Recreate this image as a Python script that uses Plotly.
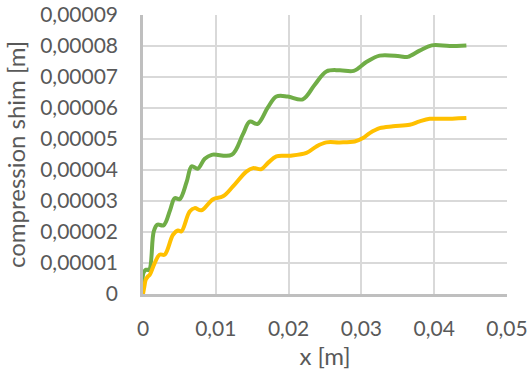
import plotly.graph_objects as go

# Shim compression along x, two load cases
green_x = [0, 0.00007, 0.00044, 0.00085, 0.00147, 0.00195, 0.00284, 0.00374, 0.00435, 0.00504,
           0.0060, 0.00669, 0.00751, 0.00848, 0.00944, 0.01218, 0.0137, 0.01466, 0.01575, 0.01713,
           0.01832, 0.01988, 0.02194, 0.02359, 0.02519, 0.02702, 0.02894, 0.03073, 0.03251, 0.03526,
           0.03636, 0.038, 0.03966, 0.04213, 0.04442]
green_y = [0, 0.687e-5, 0.784e-5, 0.784e-5, 2.01e-5, 2.235e-5, 2.22e-5, 2.72e-5, 3.09e-5, 3.06e-5,
           3.62e-5, 4.12e-5, 4.04e-5, 4.36e-5, 4.49e-5, 4.49e-5, 5.14e-5, 5.56e-5, 5.49e-5, 6.01e-5,
           6.37e-5, 6.37e-5, 6.28e-5, 6.75e-5, 7.18e-5, 7.22e-5, 7.2e-5, 7.49e-5, 7.69e-5, 7.67e-5,
           7.65e-5, 7.85e-5, 8.02e-5, 8.0e-5, 8.02e-5]

yellow_x = [0, 0.00019, 0.00037, 0.00065, 0.00092, 0.00161, 0.00229, 0.00298, 0.00412, 0.00481,
            0.00527, 0.00641, 0.0071, 0.00802, 0.00962, 0.01099, 0.01236, 0.0142, 0.01511, 0.01626,
            0.01717, 0.01832, 0.02015, 0.02245, 0.02382, 0.02519, 0.02702, 0.02908, 0.03022, 0.03114,
            0.03251, 0.03434, 0.03663, 0.038, 0.03938, 0.04121, 0.04442]
yellow_y = [0, 0.245e-5, 0.46e-5, 0.56e-5, 0.62e-5, 1.0e-5, 1.27e-5, 1.27e-5, 1.91e-5, 2.05e-5,
            2.02e-5, 2.66e-5, 2.77e-5, 2.7e-5, 3.06e-5, 3.15e-5, 3.47e-5, 3.95e-5, 4.06e-5, 4.03e-5,
            4.23e-5, 4.44e-5, 4.46e-5, 4.55e-5, 4.76e-5, 4.89e-5, 4.89e-5, 4.92e-5, 5.03e-5, 5.19e-5,
            5.35e-5, 5.41e-5, 5.46e-5, 5.57e-5, 5.65e-5, 5.65e-5, 5.68e-5]

x_ticks = [0, 0.01, 0.02, 0.03, 0.04, 0.05]
x_labels = ["0", "0,01", "0,02", "0,03", "0,04", "0,05"]
y_ticks = [0, 1e-5, 2e-5, 3e-5, 4e-5, 5e-5, 6e-5, 7e-5, 8e-5, 9e-5]
y_labels = ["0", "0,00001", "0,00002", "0,00003", "0,00004", "0,00005",
            "0,00006", "0,00007", "0,00008", "0,00009"]

FONT = "Lato"
TEXT = "#595959"
GRID = "#D9D9D9"
AXIS = "#BFBFBF"

fig = go.Figure()
fig.add_trace(go.Scatter(x=green_x, y=green_y, mode="lines",
                         line=dict(color="#70AD47", width=4, shape="spline", smoothing=1.0),
                         showlegend=False, hoverinfo="skip"))
fig.add_trace(go.Scatter(x=yellow_x, y=yellow_y, mode="lines",
                         line=dict(color="#FFC000", width=4, shape="spline", smoothing=1.0),
                         showlegend=False, hoverinfo="skip"))

fig.update_layout(
    width=530, height=381,
    margin=dict(l=143, r=23, t=15, b=87, autoexpand=False),
    paper_bgcolor="white", plot_bgcolor="white",
    font=dict(family=FONT, size=21, color=TEXT),
)
fig.update_xaxes(
    range=[0, 0.05], tickvals=x_ticks, ticktext=x_labels,
    showgrid=True, gridcolor=GRID, gridwidth=2,
    showline=True, linecolor=AXIS, linewidth=2.5, zeroline=False,
    ticks="", ticklabelstandoff=14,
    title=dict(text="x [m]", font=dict(family=FONT, size=24, color=TEXT), standoff=10),
)
fig.update_yaxes(
    range=[0, 0.00009], tickvals=y_ticks, ticktext=y_labels,
    showgrid=True, gridcolor=GRID, gridwidth=2,
    showline=True, linecolor=AXIS, linewidth=2.5, zeroline=False,
    ticks="", ticklabelstandoff=18,
    title=dict(text="compression shim [m]", font=dict(family=FONT, size=24, color=TEXT), standoff=8),
)

fig.write_html("out.html")
